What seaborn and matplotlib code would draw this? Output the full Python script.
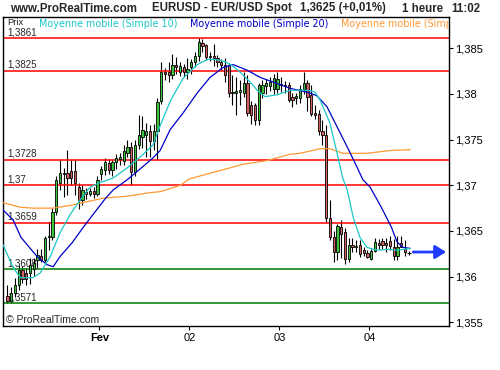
import numpy as np
import pandas as pd
import matplotlib
matplotlib.use("Agg")
import matplotlib.pyplot as plt
import seaborn as sns

# hourly candles EUR/USD, first one = 31 Jan 23h before "Fev"
opens = [1.3579, 1.3573, 1.3582, 1.3591, 1.3607, 1.3604, 1.3604, 1.3608, 1.3618, 1.3623,
         1.3618, 1.3643, 1.3643, 1.3671, 1.3702, 1.3713, 1.3713, 1.3716, 1.3716, 1.3698,
         1.3684, 1.3693, 1.3691, 1.3694, 1.3691, 1.3712, 1.3717, 1.3724, 1.3717, 1.3725,
         1.3729, 1.3727, 1.3735, 1.3742, 1.3715, 1.3744, 1.3753, 1.3755, 1.3759, 1.3748,
         1.3759, 1.3792, 1.3824, 1.3824, 1.3821, 1.3832, 1.3824, 1.3829, 1.3824, 1.3829,
         1.3835, 1.3841, 1.3856, 1.3853, 1.3842, 1.3841, 1.3839, 1.3835, 1.3832, 1.3832,
         1.3802, 1.3801, 1.3802, 1.3801, 1.3812, 1.3788, 1.3788, 1.3771, 1.3801, 1.3809,
         1.3809, 1.3805, 1.3805, 1.3811, 1.3810, 1.3810, 1.3797, 1.3795, 1.3795, 1.3805,
         1.3812, 1.3799, 1.3779, 1.3778, 1.3759, 1.3755, 1.3664, 1.3643, 1.3627, 1.3654,
         1.3649, 1.3619, 1.3635, 1.3633, 1.3635, 1.3629, 1.3626, 1.3619, 1.3628, 1.3637,
         1.3639, 1.3637, 1.3639, 1.3632, 1.3623, 1.3637, 1.3630]
highs = [1.3591, 1.3589, 1.3599, 1.3613, 1.3612, 1.3609, 1.3621, 1.3621, 1.3630, 1.3630,
         1.3644, 1.3660, 1.3675, 1.3710, 1.3728, 1.3719, 1.3739, 1.3728, 1.3728, 1.3703,
         1.3700, 1.3697, 1.3697, 1.3698, 1.3710, 1.3721, 1.3730, 1.3729, 1.3728, 1.3734,
         1.3735, 1.3744, 1.3750, 1.3747, 1.3750, 1.3777, 1.3776, 1.3768, 1.3766, 1.3767,
         1.3795, 1.3835, 1.3828, 1.3835, 1.3844, 1.3840, 1.3835, 1.3833, 1.3839, 1.3838,
         1.3846, 1.3861, 1.3860, 1.3855, 1.3846, 1.3855, 1.3843, 1.3838, 1.3839, 1.3834,
         1.3821, 1.3818, 1.3815, 1.3824, 1.3821, 1.3792, 1.3790, 1.3812, 1.3815, 1.3816,
         1.3818, 1.3822, 1.3824, 1.3818, 1.3814, 1.3813, 1.3801, 1.3801, 1.3810, 1.3824,
         1.3815, 1.3810, 1.3788, 1.3782, 1.3771, 1.3766, 1.3684, 1.3650, 1.3658, 1.3662,
         1.3653, 1.3642, 1.3642, 1.3640, 1.3640, 1.3632, 1.3629, 1.3630, 1.3642, 1.3641,
         1.3642, 1.3642, 1.3644, 1.3641, 1.3644, 1.3644, 1.3640]
lows = [1.3571, 1.3571, 1.3578, 1.3585, 1.3593, 1.3591, 1.3592, 1.3601, 1.3610, 1.3616,
        1.3616, 1.3629, 1.3640, 1.3667, 1.3695, 1.3687, 1.3689, 1.3700, 1.3689, 1.3674,
        1.3678, 1.3685, 1.3688, 1.3686, 1.3688, 1.3706, 1.3711, 1.3712, 1.3710, 1.3718,
        1.3722, 1.3722, 1.3731, 1.3700, 1.3710, 1.3740, 1.3741, 1.3731, 1.3731, 1.3739,
        1.3728, 1.3789, 1.3815, 1.3813, 1.3816, 1.3822, 1.3820, 1.3818, 1.3816, 1.3822,
        1.3829, 1.3836, 1.3846, 1.3837, 1.3836, 1.3830, 1.3829, 1.3826, 1.3813, 1.3797,
        1.3788, 1.3777, 1.3788, 1.3797, 1.3776, 1.3767, 1.3766, 1.3766, 1.3795, 1.3800,
        1.3803, 1.3800, 1.3801, 1.3802, 1.3801, 1.3791, 1.3786, 1.3789, 1.3790, 1.3800,
        1.3781, 1.3776, 1.3772, 1.3755, 1.3744, 1.3660, 1.3640, 1.3616, 1.3618, 1.3621,
        1.3614, 1.3616, 1.3627, 1.3627, 1.3622, 1.3623, 1.3620, 1.3618, 1.3627, 1.3630,
        1.3630, 1.3627, 1.3629, 1.3618, 1.3618, 1.3632, 1.3623]
closes = [1.3573, 1.3582, 1.3591, 1.3607, 1.3598, 1.3598, 1.3613, 1.3615, 1.3624, 1.3618,
          1.3642, 1.3644, 1.3671, 1.3706, 1.3713, 1.3712, 1.3708, 1.3708, 1.3702, 1.3684,
          1.3695, 1.3691, 1.3694, 1.3691, 1.3706, 1.3718, 1.3726, 1.3717, 1.3725, 1.3730,
          1.3731, 1.3737, 1.3742, 1.3715, 1.3744, 1.3755, 1.3760, 1.3759, 1.3748, 1.3759,
          1.3791, 1.3824, 1.3822, 1.3821, 1.3832, 1.3829, 1.3830, 1.3824, 1.3827, 1.3835,
          1.3841, 1.3857, 1.3852, 1.3840, 1.3840, 1.3839, 1.3835, 1.3832, 1.3821, 1.3801,
          1.3801, 1.3803, 1.3804, 1.3812, 1.3779, 1.3777, 1.3771, 1.3810, 1.3810, 1.3812,
          1.3813, 1.3817, 1.3816, 1.3810, 1.3809, 1.3793, 1.3793, 1.3798, 1.3805, 1.3812,
          1.3797, 1.3778, 1.3777, 1.3759, 1.3755, 1.3664, 1.3643, 1.3627, 1.3655, 1.3647,
          1.3619, 1.3635, 1.3633, 1.3634, 1.3625, 1.3626, 1.3622, 1.3628, 1.3638, 1.3635,
          1.3635, 1.3635, 1.3634, 1.3623, 1.3633, 1.3633, 1.3627]
last_tick = 1.3626

# moving averages (hours since 1 Feb 00h)
ma10_h = [-25.7, -23.0, -21.1, -17.7, -15.8, -13.1, -10.5, -7.8, -5.1, -2.5,
          0.2, 3.7, 7.4, 10.9, 14.3, 16.2, 18.9, 22.3, 26.1, 29.0,
          32.2, 34.1, 35.7, 37.5, 40.2, 42.1, 44.2, 47.4, 50.9, 55.5,
          57.5, 58.9, 61.5, 63.4, 64.9, 66.1, 67.7, 69.5, 71.4, 74.1,
          77.1, 79.4, 82.9]
ma10_v = [1.3635, 1.3610, 1.3599, 1.3599, 1.3604, 1.3622, 1.3648, 1.3668, 1.3684, 1.3698,
          1.3703, 1.3708, 1.3719, 1.3731, 1.3744, 1.3765, 1.3792, 1.3817, 1.3832, 1.3838,
          1.3837, 1.3834, 1.3830, 1.3824, 1.3813, 1.3804, 1.3797, 1.3799, 1.3804, 1.3804,
          1.3802, 1.3793, 1.3768, 1.3735, 1.3708, 1.3695, 1.3665, 1.3643, 1.3632, 1.3629,
          1.3630, 1.3629, 1.3631]
ma20_h = [-25.7, -23.0, -20.9, -16.6, -13.9, -12.3, -10.5, -7.3, -4.3, -1.7,
          1.5, 3.7, 7.4, 10.9, 14.3, 16.2, 18.9, 22.3, 26.1, 29.5,
          33.0, 35.7, 39.4, 42.9, 46.3, 50.9, 55.4, 58.0, 60.7, 63.4,
          66.1, 68.7, 70.3, 72.2, 75.2, 77.9, 79.4, 81.0, 82.9]
ma20_v = [1.3673, 1.3662, 1.3643, 1.3622, 1.3613, 1.3611, 1.3622, 1.3637, 1.3654, 1.3668,
          1.3685, 1.3695, 1.3706, 1.3718, 1.3730, 1.3738, 1.3761, 1.3779, 1.3801, 1.3818,
          1.3829, 1.3832, 1.3826, 1.3818, 1.3813, 1.3806, 1.3802, 1.3798, 1.3786, 1.3764,
          1.3742, 1.3720, 1.3706, 1.3698, 1.3676, 1.3654, 1.3638, 1.3632, 1.3631]
malong_h = [-25.7, -21.1, -17.7, -12.3, -7.8, -3.3, 1.0, 7.4, 13.5, 16.2,
            21.6, 24.0, 31.1, 33.0, 38.3, 44.7, 50.9, 53.5, 58.9, 61.5,
            65.0, 71.4, 77.5, 82.9]
malong_v = [1.3681, 1.3676, 1.3675, 1.3675, 1.3678, 1.3682, 1.3686, 1.3688, 1.3692, 1.3693,
            1.3700, 1.3707, 1.3715, 1.3717, 1.3723, 1.3727, 1.3734, 1.3735, 1.3740, 1.3740,
            1.3735, 1.3735, 1.3738, 1.3739]

red_levels = [1.3861, 1.3825, 1.3728, 1.37, 1.3659]
red_labels = ["1,3861", "1,3825", "1,3728", "1,37", "1,3659"]
green_levels = [1.3608, 1.3571]
green_labels = ["1,3608", "1,3571"]

y_ticks = [1.355, 1.36, 1.365, 1.37, 1.375, 1.38, 1.385]
y_tick_labels = ["1,355", "1,36", "1,365", "1,37", "1,375", "1,38", "1,385"]
x_ticks = [0, 24, 48, 72]
x_tick_labels = ["Fev", "02", "03", "04"]

GREEN = "#3cc43c"
RED = "#d35f5f"
CYAN = "#1cc6c6"
BLUE = "#0000c8"
ORANGE = "#ff9933"

sns.set_style("white")
plt.rcParams['font.family'] = ['Liberation Sans', 'DejaVu Sans']

fig = plt.figure(figsize=(5, 3.7), dpi=100)
ax = fig.add_axes([0.006, 0.119, 0.892, 0.835])

df = pd.DataFrame({"open": opens, "high": highs, "low": lows, "close": closes})
df["hour"] = np.arange(len(df)) - 25 + 0.5
up = df["close"] >= df["open"]
body = (df["close"] - df["open"]).abs().clip(lower=0.00005)
bottom = df[["open", "close"]].min(axis=1)

ax.vlines(df["hour"], df["low"], df["high"], color="black", lw=0.8, zorder=2)
ax.bar(df["hour"], body, bottom=bottom, width=0.62,
       color=np.where(up, GREEN, RED), edgecolor="black", linewidth=0.6, zorder=3)
ax.plot(df["hour"].iloc[-1] + 1, last_tick, marker="+", color="black", ms=3.5, mew=0.8, zorder=3)

# horizontal levels with their labels
ytr = ax.get_yaxis_transform()
for lev, lab in zip(red_levels, red_labels):
    ax.axhline(lev, color="#ff0000", lw=1.1, zorder=2.5)
    ax.annotate(lab, xy=(0, lev), xycoords=ytr, xytext=(3, 0.8), textcoords="offset points",
                va="bottom", ha="left", fontsize=7, zorder=1)
for lev, lab in zip(green_levels, green_labels):
    ax.axhline(lev, color="#007a00", lw=1.1, zorder=2.5)
    ax.annotate(lab, xy=(0, lev), xycoords=ytr, xytext=(3, 0.8), textcoords="offset points",
                va="bottom", ha="left", fontsize=7, zorder=1)

# moving averages
sns.lineplot(x=malong_h, y=malong_v, ax=ax, color=ORANGE, lw=0.9, zorder=4, sort=False, estimator=None)
sns.lineplot(x=ma20_h, y=ma20_v, ax=ax, color=BLUE, lw=0.9, zorder=5, sort=False, estimator=None)
sns.lineplot(x=ma10_h, y=ma10_v, ax=ax, color=CYAN, lw=0.9, zorder=6, sort=False, estimator=None)

# price arrow
ax.annotate("", xy=(92.5, closes[-1]), xytext=(83.7, closes[-1]),
            arrowprops=dict(arrowstyle="-|>,head_length=0.65,head_width=0.4",
                            color="#1f3dff", lw=2, mutation_scale=10, shrinkA=0, shrinkB=0),
            zorder=7)

ax.set_xlim(-25.7, 93.25)
ax.set_ylim(1.35461, 1.38841)

ax.yaxis.tick_right()
ax.set_yticks(y_ticks, y_tick_labels)
ax.set_xticks(x_ticks, x_tick_labels)
ax.tick_params(axis="y", which="both", right=True, left=False, direction="out",
               length=3, width=0.8, pad=1.5, labelsize=8, colors="black")
ax.tick_params(axis="x", bottom=True, direction="out", length=3, width=0.8,
               pad=2, labelsize=8, colors="black")
ax.get_xticklabels()[0].set_fontweight("bold")
ax.set_xlabel("")
ax.set_ylabel("")
for s in ax.spines.values():
    s.set_visible(True)
    s.set_color("black")
    s.set_linewidth(1)

# legend row inside the frame
ax.text(0.009, 0.982, "Prix", transform=ax.transAxes, fontsize=6.8, va="center", ha="left")
ax.text(0.0807, 0.978, "Moyenne mobile (Simple 10)", transform=ax.transAxes, fontsize=6.9,
        color=CYAN, va="center", ha="left", family="DejaVu Sans")
ax.text(0.419, 0.978, "Moyenne mobile (Simple 20)", transform=ax.transAxes, fontsize=6.9,
        color=BLUE, va="center", ha="left", family="DejaVu Sans")
ax.text(0.758, 0.978, "Moyenne mobile (Simple 200)", transform=ax.transAxes, fontsize=6.9,
        color=ORANGE, va="center", ha="left", family="DejaVu Sans", clip_on=True)
ax.text(0.007, 0.019, "\u00a9 ProRealTime.com", transform=ax.transAxes, fontsize=7.5,
        va="center", ha="left")

# header
header = [("www.ProRealTime.com", 10), ("EURUSD - EUR/USD Spot", 152),
          ("1,3625 (+0,01%)", 300), ("1 heure", 402), ("11:02", 451)]
for txt, px in header:
    fig.text(px / 500, 1 - 8.5 / 370, txt, fontsize=8.3, fontweight="bold",
             va="center", ha="left")

fig.savefig("out.png", dpi=100, facecolor="white")
